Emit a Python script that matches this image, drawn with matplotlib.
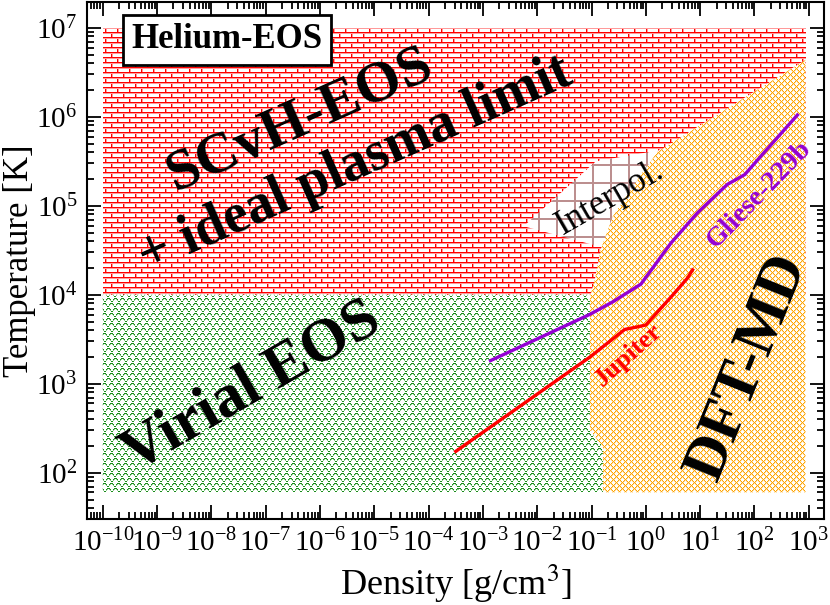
import numpy as np
import matplotlib
matplotlib.use("Agg")
import matplotlib.pyplot as plt
from matplotlib.colors import to_rgb
from matplotlib.patches import Polygon
from matplotlib.ticker import LogLocator, NullFormatter

plt.rcParams['font.family'] = ['Liberation Serif', 'DejaVu Serif']
plt.rcParams['mathtext.fontset'] = 'stix'
plt.rcParams['axes.unicode_minus'] = False

# region outlines, log10(density [g/cm3]) and log10(T [K])
scvh_rho = [-10, -10, 2.94, 2.94]
scvh_T = [4.0, 7.0, 7.0, 4.0]
virial_rho = [-10, -10, -1.03, -1.03, -0.79, -0.79]
virial_T = [1.78, 4.0, 4.0, 2.48, 2.29, 1.78]
interp_rho = [-2.25, -0.92, 0.31, -0.15, -0.72]
interp_T = [4.77, 5.50, 5.63, 4.90, 4.52]
dft_rho = [2.94, 0.22, -0.055, -0.61, -0.83, -0.94, -1.03, -1.03, -0.79, -0.79, 2.94]
dft_T = [6.64, 5.61, 5.38, 4.88, 4.51, 4.17, 3.98, 2.48, 2.29, 1.78, 1.78]

# planetary isentropes
jupiter_rho = [-3.50, -1.03, -0.39, -0.15, 0.0, 0.22, 0.50, 0.77, 0.86]
jupiter_T = [2.24, 3.30, 3.61, 3.64, 3.66, 3.81, 4.00, 4.19, 4.28]
gliese_rho = [-2.86, -1.03, -0.61, -0.09, 0.46, 0.95, 1.50, 1.82, 2.18, 2.79]
gliese_T = [3.26, 3.78, 3.92, 4.12, 4.58, 4.92, 5.24, 5.35, 5.60, 6.02]

# decade ticks
x_decades = np.arange(-10, 4)
y_decades = np.arange(2, 8)

fig = plt.figure(figsize=(8.3, 6.05), dpi=100)
ax = fig.add_axes([87/830, 1 - 519/605, 737/830, 517/605])
ax.set_xscale('log')
ax.set_yscale('log')
ax.set_autoscale_on(False)
ax.set_xlim(10**-10.29, 10**3.28)
ax.set_ylim(10**1.48, 10**7.29)

# pixel textures for the regions (axes is 737 x 517 px)
H, W = 517, 737
rr, cc = np.mgrid[0:H, 0:W]


def blank():
    return np.ones((H, W, 3))


def brick():
    img = blank()
    col = (cc + (rr // 5 % 2) * 6) % 12
    row = rr % 5
    img[col == 1] = to_rgb('#ff9a9a')
    img[col == 0] = to_rgb('#ff0000')
    img[row == 1] = to_rgb('#ff9a9a')
    img[row == 0] = to_rgb('#ff0000')
    return img


def scales():
    img = blank()
    y = rr % 5
    x = (cc + (rr // 5 % 2) * 3) % 7 - 3
    d = np.abs(y - (1 + x**2 / 3.0))
    img[d < 0.9] = to_rgb('#8fcc8f')
    img[d < 0.5] = to_rgb('#1a8c1a')
    return img


def cross():
    img = blank()
    d1 = (rr + cc) % 6
    d2 = (rr - cc) % 6
    img[(d1 == 1) | (d2 == 1)] = to_rgb('#ffdfa8')
    img[(d1 == 0) | (d2 == 0)] = to_rgb('#ffa500')
    return img


def grid():
    img = blank()
    img[(rr % 18 < 2) | (cc % 18 < 2)] = to_rgb('#bc8f8f')
    return img


def fill_texture(rho, T, tex, z):
    pts = np.column_stack([10**np.array(rho), 10**np.array(T)])
    poly = Polygon(pts, closed=True, transform=ax.transData)
    im = ax.imshow(tex, extent=(0, 1, 0, 1), transform=ax.transAxes,
                   aspect='auto', interpolation='nearest', zorder=z)
    im.set_clip_path(poly)


fill_texture(scvh_rho, scvh_T, brick(), 1)
fill_texture(virial_rho, virial_T, scales(), 1)
fill_texture(interp_rho, interp_T, grid(), 2)
fill_texture(dft_rho, dft_T, cross(), 3)

ax.plot(10**np.array(jupiter_rho), 10**np.array(jupiter_T), color='#ff0000', lw=2.4, zorder=5)
ax.plot(10**np.array(gliese_rho), 10**np.array(gliese_T), color='#9400d3', lw=2.4, zorder=5)

# labels
ax.text(0.19, 0.9265, 'Helium-EOS', transform=ax.transAxes, ha='center', va='center',
        fontsize=25, fontweight='bold', zorder=6,
        bbox=dict(boxstyle='square,pad=0.24', fc='white', ec='black', lw=2))
ax.text(0.290, 0.772, 'SCvH-EOS', transform=ax.transAxes, ha='center', va='center',
        fontsize=42, fontweight='bold', rotation=24, zorder=6)
ax.text(0.364, 0.685, '+ ideal plasma limit', transform=ax.transAxes, ha='center', va='center',
        fontsize=40, fontweight='bold', rotation=24, zorder=6)
ax.text(0.224, 0.255, 'Virial EOS', transform=ax.transAxes, ha='center', va='center',
        fontsize=44, fontweight='bold', rotation=30, zorder=6)
ax.text(0.897, 0.294, 'DFT-MD', transform=ax.transAxes, ha='center', va='center',
        fontsize=44, fontweight='bold', rotation=68, zorder=6)
ax.text(0.71, 0.621, 'Interpol.', transform=ax.transAxes, ha='center', va='center',
        fontsize=25, rotation=30, zorder=6)
ax.text(0.912, 0.627, 'Gliese-229b', transform=ax.transAxes, ha='center', va='center',
        fontsize=20, fontweight='bold', rotation=46, color='#9400d3', zorder=6)
ax.text(0.735, 0.318, 'Jupiter', transform=ax.transAxes, ha='center', va='center',
        fontsize=19, fontweight='bold', rotation=42, color='#ff0000', zorder=6)

ax.set_xlabel('Density [g/cm$^3$]', fontsize=26)
ax.set_ylabel('Temperature [K]', fontsize=25)
ax.xaxis.set_label_coords(0.5, -0.085)
ax.yaxis.set_label_coords(-0.069, 0.5)

ax.set_xticks(10.0**x_decades)
ax.set_yticks(10.0**y_decades)
for axis in (ax.xaxis, ax.yaxis):
    axis.set_minor_locator(LogLocator(base=10, subs=np.arange(2, 10), numticks=30))
    axis.set_minor_formatter(NullFormatter())
ax.tick_params(which='both', direction='in', top=True, right=True, width=1.3)
ax.tick_params(which='major', length=10, labelsize=21, pad=7)
ax.tick_params(which='minor', length=5)
for s in ax.spines.values():
    s.set_linewidth(1.5)

fig.savefig('out.png', dpi=100)
